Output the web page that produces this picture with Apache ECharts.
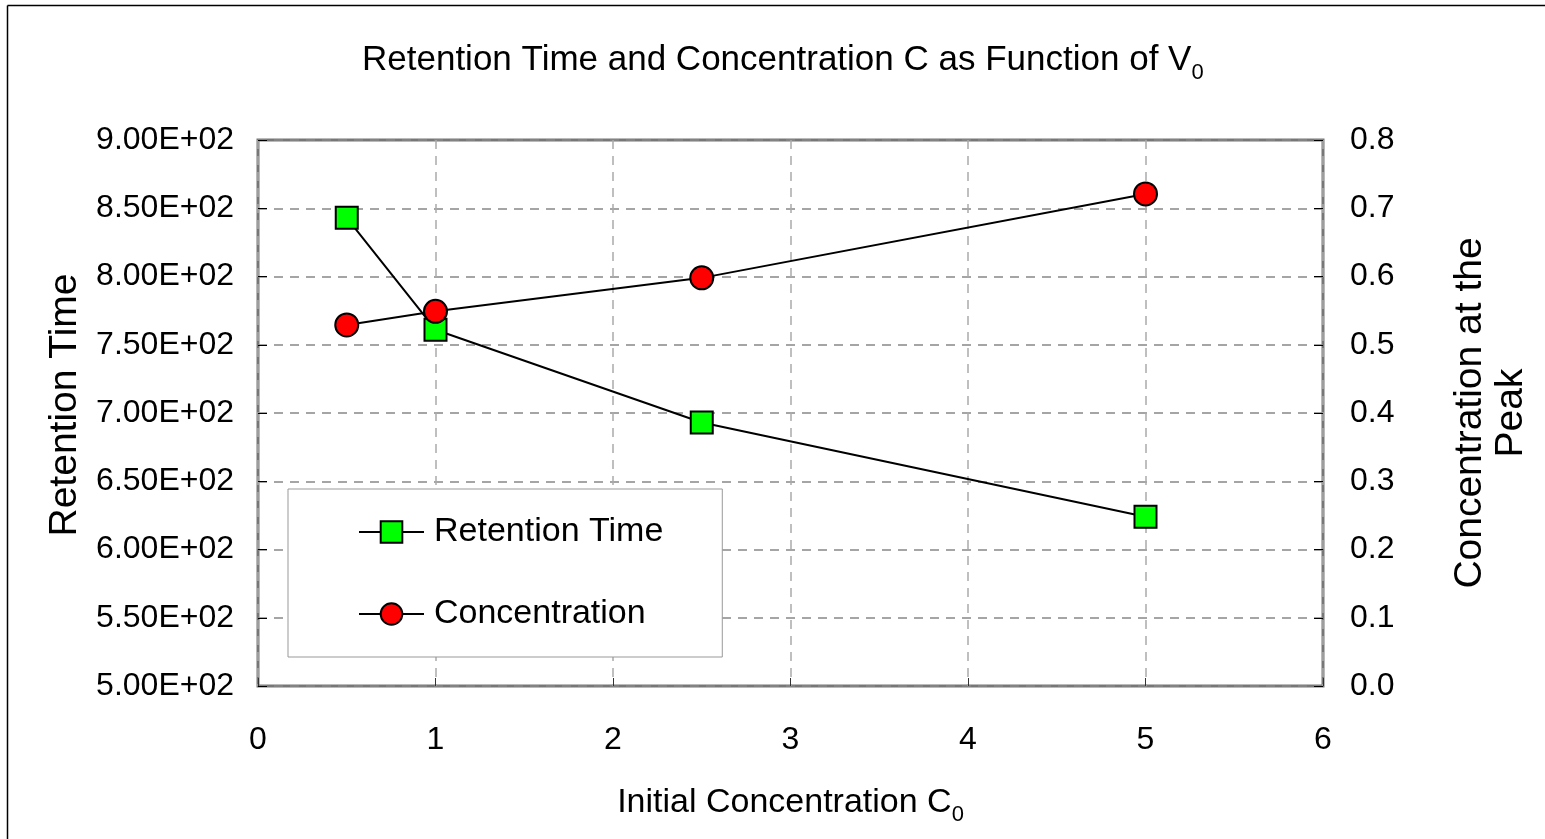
<!DOCTYPE html>
<html>
<head>
<meta charset="utf-8">
<script src="https://cdn.jsdelivr.net/npm/echarts@6/dist/echarts.min.js"></script>
<style>html,body{margin:0;padding:0;background:#fff}#c{width:1545px;height:839px}</style>
</head>
<body>
<div id="c"></div>
<script>
const xValues = [0.5, 1, 2.5, 5];
const retentionTime = [843, 761, 693, 624];
const concentration = [0.529, 0.549, 0.598, 0.721];
const seriesNames = ['Retention Time', 'Concentration'];

const FONT = 'Liberation Sans';
function sci(v) {
  if (v === 0) return '0.00E+00';
  const e = Math.floor(Math.log10(Math.abs(v)) + 1e-9);
  const m = v / Math.pow(10, e);
  return m.toFixed(2) + 'E' + (e >= 0 ? '+' : '-') + String(Math.abs(e)).padStart(2, '0');
}

const chart = echarts.init(document.getElementById('c'));
chart.setOption({
  backgroundColor: '#fff',
  animation: false,
  textStyle: { fontFamily: FONT, color: '#000' },
  graphic: [{
    type: 'line', shape: { x1: 7.5, y1: 5.5, x2: 1545, y2: 5.5 },
    style: { stroke: '#000', lineWidth: 1.5 }, silent: true, z: -10
  }, {
    type: 'line', shape: { x1: 7.5, y1: 5.5, x2: 7.5, y2: 839 },
    style: { stroke: '#000', lineWidth: 1.5 }, silent: true, z: -10
  }],
  title: {
    text: '{a|Retention Time and Concentration C as Function of V}{s|0}',
    left: 357, top: 31,
    textStyle: {
      fontWeight: 'normal',
      rich: {
        a: { fontFamily: FONT, fontSize: 35, fontWeight: 'normal', lineHeight: 48, color: '#000' },
        s: { fontFamily: FONT, fontSize: 22, fontWeight: 'normal', lineHeight: 48, verticalAlign: 'bottom', color: '#000' }
      }
    }
  },
  grid: {
    left: 258, right: 222, top: 140, bottom: 153,
    show: true, borderColor: '#777', borderWidth: 3, backgroundColor: '#fff'
  },
  legend: {
    data: seriesNames,
    orient: 'vertical',
    left: 288, top: 489,
    padding: [26, 59, 26, 70],
    itemWidth: 65, itemHeight: 27, itemGap: 48,
    backgroundColor: '#fff',
    borderColor: '#999', borderWidth: 1,
    textStyle: { fontFamily: FONT, fontSize: 34, color: '#000', padding: [0, 0, 0, 5] }
  },
  xAxis: {
    type: 'value', min: 0, max: 6, interval: 1,
    name: '{a|Initial Concentration C}{s|0}',
    nameLocation: 'middle', nameGap: 94,
    nameTextStyle: {
      rich: {
        a: { fontFamily: FONT, fontSize: 34, lineHeight: 46, color: '#000' },
        s: { fontFamily: FONT, fontSize: 22, lineHeight: 46, verticalAlign: 'bottom', color: '#000' }
      }
    },
    axisLine: { show: false },
    axisTick: { show: true, inside: true, length: 8, lineStyle: { color: '#333', width: 1 } },
    axisLabel: { fontFamily: FONT, fontSize: 32, color: '#000', margin: 38 },
    splitLine: { show: true, lineStyle: { color: '#aaa', type: [9, 7], width: 1.5 } }
  },
  yAxis: [{
    type: 'value', min: 500, max: 900, interval: 50,
    name: 'Retention Time', nameLocation: 'middle', nameGap: 170, nameRotate: 90,
    nameTextStyle: { fontFamily: FONT, fontSize: 39, color: '#000', padding: [0, 0, 0, 16] },
    axisLine: { show: false },
    axisTick: { show: true, inside: true, length: 9, lineStyle: { color: '#000', width: 1 } },
    axisLabel: { fontFamily: FONT, fontSize: 32, color: '#000', margin: 24, formatter: sci },
    splitLine: { show: true, lineStyle: { color: '#888', type: [9, 7], width: 1.5 } }
  }, {
    type: 'value', min: 0, max: 0.8, interval: 0.1, position: 'right',
    name: 'Concentration at the\nPeak', nameLocation: 'middle', nameGap: 127, nameRotate: 90,
    nameTextStyle: { fontFamily: FONT, fontSize: 39, color: '#000', lineHeight: 41 },
    axisLine: { show: false },
    axisTick: { show: true, inside: true, length: 9, lineStyle: { color: '#000', width: 1 } },
    axisLabel: { fontFamily: FONT, fontSize: 32, color: '#000', margin: 27, formatter: v => v.toFixed(1) },
    splitLine: { show: false }
  }],
  series: [{
    name: seriesNames[0], type: 'line', yAxisIndex: 0,
    data: xValues.map((x, i) => [x, retentionTime[i]]),
    symbol: 'rect', symbolSize: 22,
    lineStyle: { color: '#000', width: 2 },
    itemStyle: { color: '#00ff00', borderColor: '#000', borderWidth: 2 },
    z: 3
  }, {
    name: seriesNames[1], type: 'line', yAxisIndex: 1,
    data: xValues.map((x, i) => [x, concentration[i]]),
    symbol: 'circle', symbolSize: 23,
    lineStyle: { color: '#000', width: 2 },
    itemStyle: { color: '#ff0000', borderColor: '#000', borderWidth: 2 },
    z: 4
  }]
});
</script>
</body>
</html>
